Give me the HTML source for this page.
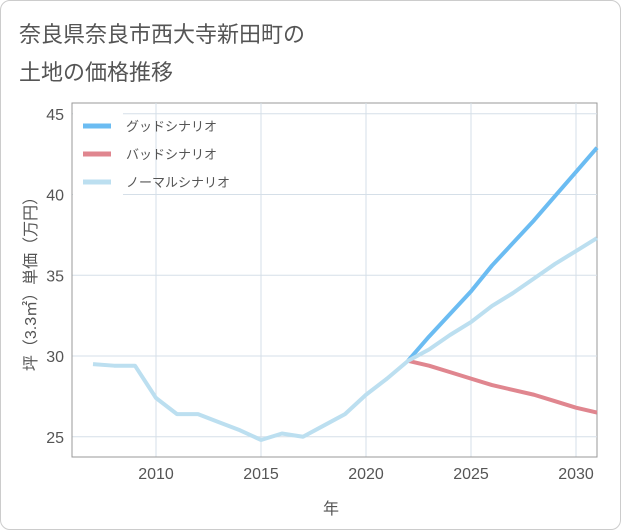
<!DOCTYPE html>
<html><head><meta charset="utf-8"><style>
body{margin:0;background:#fff;font-family:"Liberation Sans","Noto Sans CJK JP",sans-serif}
#c{position:relative;width:619px;height:528px;border:1px solid #ccc;border-radius:10px;overflow:hidden}
.t{position:absolute;left:18px;color:#555;font-size:22px}
</style></head><body>
<div id="c">
<div class="t" style="top:16px">奈良県奈良市西大寺新田町の</div>
<div class="t" style="top:54px">土地の価格推移</div>
<svg id="s" width="621" height="530" style="position:absolute;left:-1px;top:-1px" font-family="Liberation Sans, Noto Sans CJK JP, sans-serif"></svg>
</div>
<script>
const years=[2007,2008,2009,2010,2011,2012,2013,2014,2015,2016,2017,2018,2019,2020,2021,2022,2023,2024,2025,2026,2027,2028,2029,2030,2031];
const normal=[29.5,29.4,29.4,27.4,26.4,26.4,25.9,25.4,24.8,25.2,25.0,25.7,26.4,27.6,28.6,29.7,30.4,31.3,32.1,33.1,33.9,34.8,35.7,36.5,37.3];
const futureYears=[2022,2023,2024,2025,2026,2027,2028,2029,2030,2031];
const good=[29.7,31.2,32.6,34.0,35.6,37.0,38.4,39.9,41.4,42.9];
const bad=[29.7,29.4,29.0,28.6,28.2,27.9,27.6,27.2,26.8,26.5];
const xTicks=[2010,2015,2020,2025,2030];
const yTicks=[25,30,35,40,45];
const L=72,R=597,T=103,B=457;
const x=v=>156+(v-2010)*21;
const y=v=>356-(v-30)*16.15;
const s=document.getElementById('s');
const NS='http://www.w3.org/2000/svg';
function mk(tag,at,name,txt){const e=document.createElementNS(NS,tag);for(const k in at)e.setAttribute(k,at[k]);


if(txt!=null)e.textContent=txt;s.appendChild(e);return e;}
mk('rect',{x:L,y:T,width:R-L,height:B-T,fill:'#fff',stroke:'#999','stroke-width':1},'plot-area');
xTicks.forEach(t=>{mk('line',{x1:x(t),x2:x(t),y1:T,y2:B,stroke:'#d5dfe8'},'x-grid-'+t);
mk('text',{x:x(t),y:479,'text-anchor':'middle','font-size':16,fill:'#555'},'x-tick-'+t,t);});
yTicks.forEach(t=>{mk('line',{x1:L,x2:R,y1:y(t),y2:y(t),stroke:'#d5dfe8'},'y-grid-'+t);
mk('text',{x:64,y:y(t)+6,'text-anchor':'end','font-size':16,fill:'#555'},'y-tick-'+t,t);});
mk('line',{x1:L,x2:L,y1:T,y2:B,stroke:'#999'},'y-axis-line');
mk('line',{x1:L,x2:R,y1:B,y2:B,stroke:'#999'},'x-axis-line');
function line(xs,ys,c,n){mk('polyline',{points:xs.map((v,i)=>x(v)+','+y(ys[i])).join(' '),fill:'none',stroke:c,'stroke-width':4,'stroke-linejoin':'round'},n);}
line(futureYears,bad,'#e0868f','bad-scenario-line');
line(futureYears,good,'#6bbcf2','good-scenario-line');
line(years,normal,'#bcdff0','normal-scenario-line');
mk('rect',{x:73,y:105,width:50,height:92,fill:'#fff'},'legend-bg');
[['グッドシナリオ','#6bbcf2'],['バッドシナリオ','#e0868f'],['ノーマルシナリオ','#bcdff0']].forEach((d,i)=>{
const yy=126+i*28;
mk('line',{x1:83,x2:111,y1:yy,y2:yy,stroke:d[1],'stroke-width':5},'legend-swatch-'+i);
mk('text',{x:126,y:yy+5,'font-size':13,fill:'#555'},'legend-label-'+i,d[0]);});
mk('text',{x:331,y:514,'text-anchor':'middle','font-size':16,fill:'#555'},'x-axis-title','年');
mk('text',{x:0,y:0,'text-anchor':'middle','font-size':16,fill:'#555',transform:'translate(36,280) rotate(-90)'},'y-axis-title','坪（3.3㎡）単価（万円）');
</script>
</body></html>
